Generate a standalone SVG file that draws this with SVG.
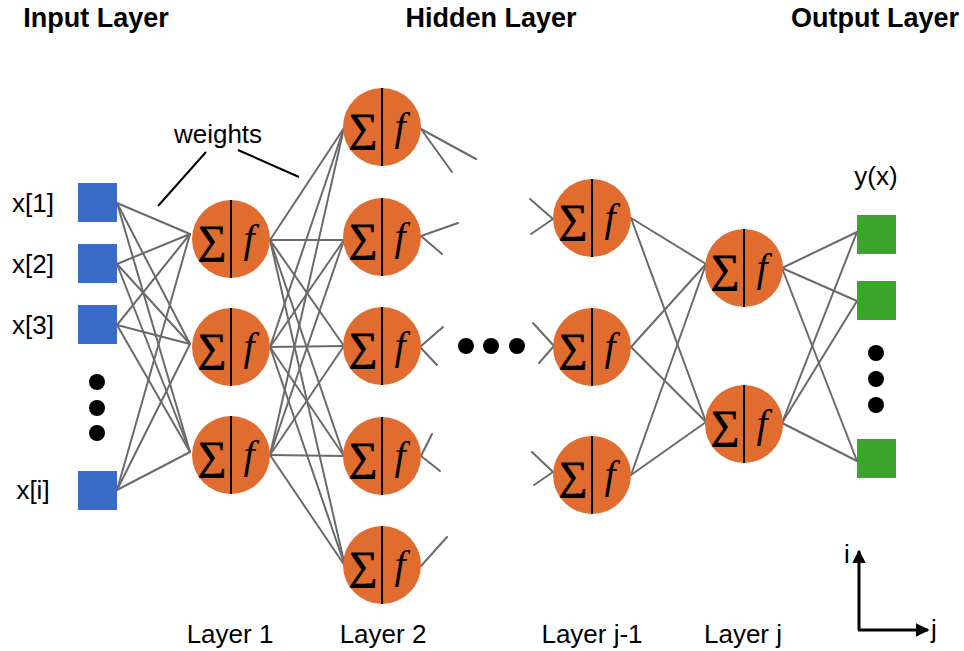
<svg xmlns="http://www.w3.org/2000/svg" width="964" height="651" viewBox="0 0 964 651">
<style>
.t{font-family:"Liberation Sans",Arial,sans-serif;fill:#000}
.h{font-size:27px;font-weight:bold;text-anchor:middle}
.l{font-size:26px;text-anchor:middle}
.c line{stroke:#6a6a6a;stroke-width:2;stroke-linecap:round}
.n circle{fill:#E06D2F}
.n line{stroke:#000;stroke-width:2}
.s{font-family:"Liberation Serif","DejaVu Serif",serif;font-size:40px;text-anchor:middle;fill:#000;stroke:#000;stroke-width:1}
.f{font-family:"Liberation Serif","DejaVu Serif",serif;font-style:italic;font-size:40px;text-anchor:middle;fill:#000}
.in{fill:#3B6BC9}
.out{fill:#3AA52A}
.dot{fill:#000}
.w{stroke:#000;stroke-width:2}
.ax{stroke:#000;stroke-width:3;fill:none}
</style>
<defs>
<marker id="ah" viewBox="0 0 10 10" refX="9" refY="5" markerWidth="4.5" markerHeight="4.5" orient="auto" markerUnits="strokeWidth">
<path d="M0,0 L10,5 L0,10 z" fill="#000"/>
</marker>
</defs>

<g id="titles">
<text class="t h" x="96" y="27">Input Layer</text>
<text class="t h" x="491" y="27">Hidden Layer</text>
<text class="t h" x="875" y="27">Output Layer</text>
</g>

<g id="connectors" class="c">
<!-- input to layer 1 -->
<line x1="117" y1="203" x2="190" y2="234"/><line x1="117" y1="203" x2="190" y2="344"/><line x1="117" y1="203" x2="190" y2="452"/>
<line x1="117" y1="264" x2="190" y2="234"/><line x1="117" y1="264" x2="190" y2="344"/><line x1="117" y1="264" x2="190" y2="452"/>
<line x1="117" y1="325" x2="190" y2="234"/><line x1="117" y1="325" x2="190" y2="344"/><line x1="117" y1="325" x2="190" y2="452"/>
<line x1="117" y1="490" x2="190" y2="234"/><line x1="117" y1="490" x2="190" y2="344"/><line x1="117" y1="490" x2="190" y2="452"/>
<!-- layer 1 to layer 2 -->
<line x1="270" y1="240" x2="344" y2="128"/><line x1="270" y1="240" x2="344" y2="240"/><line x1="270" y1="240" x2="344" y2="346"/><line x1="270" y1="240" x2="344" y2="456"/><line x1="270" y1="240" x2="345" y2="566"/>
<line x1="270" y1="347" x2="344" y2="128"/><line x1="270" y1="347" x2="344" y2="240"/><line x1="270" y1="347" x2="344" y2="346"/><line x1="270" y1="347" x2="344" y2="456"/><line x1="270" y1="347" x2="345" y2="566"/>
<line x1="270" y1="455" x2="344" y2="128"/><line x1="270" y1="455" x2="344" y2="240"/><line x1="270" y1="455" x2="344" y2="346"/><line x1="270" y1="455" x2="344" y2="456"/><line x1="270" y1="455" x2="345" y2="566"/>
<!-- layer 2 stubs -->
<line x1="421" y1="129" x2="476" y2="159"/><line x1="421" y1="129" x2="452" y2="172"/>
<line x1="421" y1="236" x2="458" y2="223"/><line x1="421" y1="236" x2="442" y2="254"/>
<line x1="420" y1="347" x2="443" y2="327"/><line x1="420" y1="347" x2="437" y2="365"/>
<line x1="421" y1="456" x2="432" y2="434"/><line x1="421" y1="456" x2="440" y2="471"/>
<line x1="421" y1="566" x2="447" y2="537"/>
<!-- layer j-1 stubs -->
<line x1="530" y1="199" x2="553" y2="219"/><line x1="531" y1="234" x2="553" y2="219"/>
<line x1="533" y1="323" x2="554" y2="346"/><line x1="539" y1="363" x2="554" y2="346"/>
<line x1="532" y1="452" x2="553" y2="472"/><line x1="534" y1="485" x2="553" y2="472"/>
<!-- layer j-1 to layer j -->
<line x1="631" y1="218" x2="706" y2="264"/><line x1="631" y1="218" x2="706" y2="422"/>
<line x1="631" y1="347" x2="706" y2="264"/><line x1="631" y1="347" x2="706" y2="422"/>
<line x1="631" y1="475" x2="706" y2="264"/><line x1="631" y1="475" x2="706" y2="422"/>
<!-- layer j to output -->
<line x1="782" y1="268" x2="857" y2="232"/><line x1="782" y1="268" x2="857" y2="301"/><line x1="782" y1="268" x2="857" y2="461"/>
<line x1="782" y1="423" x2="857" y2="232"/><line x1="782" y1="423" x2="857" y2="301"/><line x1="782" y1="423" x2="857" y2="461"/>
</g>

<g id="weights">
<line class="w" x1="158" y1="206" x2="206" y2="152"/>
<line class="w" x1="238" y1="150" x2="299" y2="177"/>
<text class="t" x="218" y="143" font-size="26" text-anchor="middle">weights</text>
</g>

<g id="input-layer">
<g id="x1"><rect class="in" x="78" y="183" width="39" height="39"/><text class="t l" x="33" y="212">x[1]</text></g>
<g id="x2"><rect class="in" x="78" y="244" width="39" height="39"/><text class="t l" x="33" y="273">x[2]</text></g>
<g id="x3"><rect class="in" x="78" y="305" width="39" height="39"/><text class="t l" x="33" y="334">x[3]</text></g>
<g id="xdots"><circle class="dot" cx="97" cy="382" r="8"/><circle class="dot" cx="97" cy="408" r="8"/><circle class="dot" cx="97" cy="433" r="8"/></g>
<g id="xi"><rect class="in" x="78" y="471" width="39" height="39"/><text class="t l" x="33" y="499">x[i]</text></g>
</g>

<g id="layer1">
<g id="n1-1" class="n"><circle cx="231" cy="239" r="39"/><line x1="231" y1="200" x2="231" y2="278"/><text class="s" x="212" y="253">∑</text><text class="f" x="249" y="252">f</text></g>
<g id="n1-2" class="n"><circle cx="231" cy="347" r="39"/><line x1="231" y1="308" x2="231" y2="386"/><text class="s" x="212" y="361">∑</text><text class="f" x="249" y="360">f</text></g>
<g id="n1-3" class="n"><circle cx="231" cy="455" r="39"/><line x1="231" y1="416" x2="231" y2="494"/><text class="s" x="212" y="469">∑</text><text class="f" x="249" y="468">f</text></g>
</g>

<g id="layer2">
<g id="n2-1" class="n"><circle cx="382" cy="127" r="39"/><line x1="382" y1="88" x2="382" y2="166"/><text class="s" x="363" y="141">∑</text><text class="f" x="400" y="140">f</text></g>
<g id="n2-2" class="n"><circle cx="382" cy="237" r="39"/><line x1="382" y1="198" x2="382" y2="276"/><text class="s" x="363" y="251">∑</text><text class="f" x="400" y="250">f</text></g>
<g id="n2-3" class="n"><circle cx="382" cy="346" r="39"/><line x1="382" y1="307" x2="382" y2="385"/><text class="s" x="363" y="360">∑</text><text class="f" x="400" y="359">f</text></g>
<g id="n2-4" class="n"><circle cx="382" cy="456" r="39"/><line x1="382" y1="417" x2="382" y2="495"/><text class="s" x="363" y="470">∑</text><text class="f" x="400" y="469">f</text></g>
<g id="n2-5" class="n"><circle cx="382" cy="565" r="39"/><line x1="382" y1="526" x2="382" y2="604"/><text class="s" x="363" y="579">∑</text><text class="f" x="400" y="578">f</text></g>
</g>

<g id="hidden-dots"><circle class="dot" cx="466" cy="346" r="8"/><circle class="dot" cx="491" cy="346" r="8"/><circle class="dot" cx="517" cy="346" r="8"/></g>

<g id="layerj-1">
<g id="nj1-1" class="n"><circle cx="592" cy="218" r="39"/><line x1="592" y1="179" x2="592" y2="257"/><text class="s" x="573" y="232">∑</text><text class="f" x="610" y="231">f</text></g>
<g id="nj1-2" class="n"><circle cx="592" cy="347" r="39"/><line x1="592" y1="308" x2="592" y2="386"/><text class="s" x="573" y="361">∑</text><text class="f" x="610" y="360">f</text></g>
<g id="nj1-3" class="n"><circle cx="592" cy="475" r="39"/><line x1="592" y1="436" x2="592" y2="514"/><text class="s" x="573" y="489">∑</text><text class="f" x="610" y="488">f</text></g>
</g>

<g id="layerj">
<g id="nj-1" class="n"><circle cx="744" cy="268" r="39"/><line x1="744" y1="229" x2="744" y2="307"/><text class="s" x="725" y="282">∑</text><text class="f" x="762" y="281">f</text></g>
<g id="nj-2" class="n"><circle cx="744" cy="424" r="39"/><line x1="744" y1="385" x2="744" y2="463"/><text class="s" x="725" y="438">∑</text><text class="f" x="762" y="437">f</text></g>
</g>

<g id="output-layer">
<text class="t l" x="876" y="185">y(x)</text>
<rect class="out" x="857" y="215" width="39" height="39"/>
<rect class="out" x="857" y="281" width="39" height="39"/>
<circle class="dot" cx="876" cy="353" r="8"/><circle class="dot" cx="876" cy="379" r="8"/><circle class="dot" cx="876" cy="405" r="8"/>
<rect class="out" x="857" y="439" width="39" height="39"/>
</g>

<g id="layer-labels">
<text class="t l" x="230" y="643">Layer 1</text>
<text class="t l" x="383" y="643">Layer 2</text>
<text class="t l" x="592" y="643">Layer j-1</text>
<text class="t l" x="743" y="643">Layer j</text>
</g>

<g id="axes">
<line class="ax" x1="859" y1="630" x2="859" y2="551" marker-end="url(#ah)"/>
<line class="ax" x1="858" y1="630" x2="928" y2="630" marker-end="url(#ah)"/>
<text class="t" x="847" y="563" font-size="26" text-anchor="middle">i</text>
<text class="t" x="934" y="638" font-size="26" text-anchor="middle">j</text>
</g>
</svg>
